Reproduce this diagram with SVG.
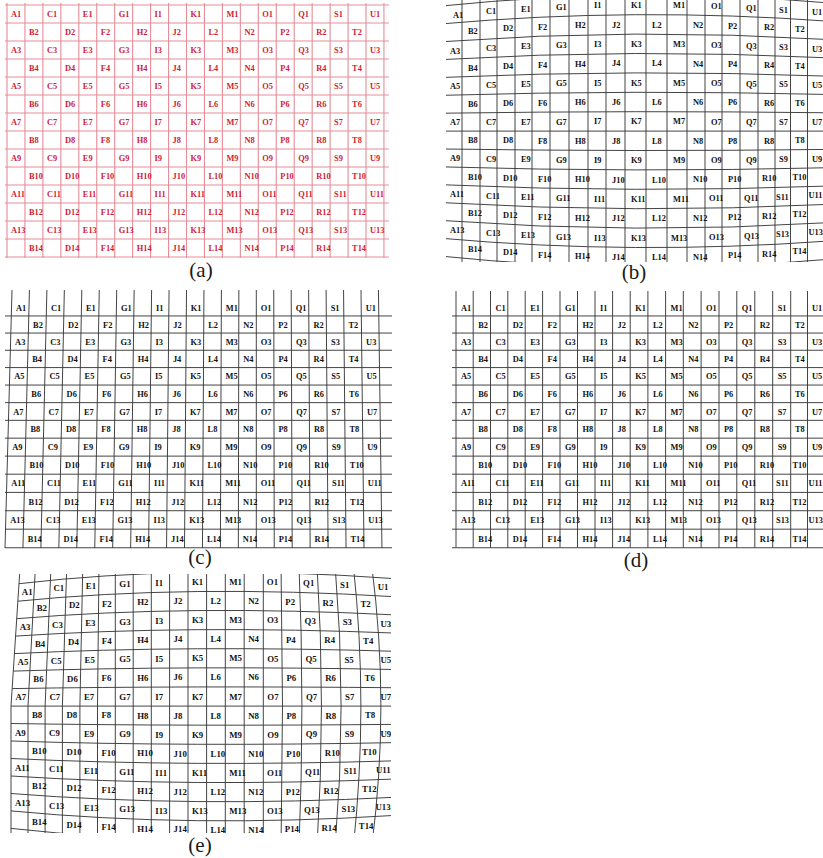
<svg xmlns="http://www.w3.org/2000/svg" width="823" height="858" viewBox="0 0 823 858">
<defs>
<clipPath id="clipB"><rect x="446" y="0" width="377" height="262"/></clipPath>
<clipPath id="clipE"><rect x="5" y="574" width="386" height="259"/></clipPath>
</defs>
<style>
.ra{font-family:"Liberation Serif","Times New Roman",serif;font-weight:bold;font-size:8.4px;fill:#d01c36}
.lb{font-family:"Liberation Serif","Times New Roman",serif;font-weight:bold;font-size:8.4px;fill:#111111}
.le{font-family:"Liberation Serif","Times New Roman",serif;font-weight:bold;font-size:8.8px;fill:#111111}
.cap{font-family:"Liberation Serif","Times New Roman",serif;font-size:21px;fill:#1a1a1a;text-anchor:middle}
.ga{fill:none;stroke:#e58d98;stroke-width:1.1}
.gk{fill:none;stroke:#3a3a3a;stroke-width:0.95}
</style>
<rect width="823" height="858" fill="#ffffff"/>

<g id="panel-a">
<path class="ga" d="M7,3V258M24.95,3V258M42.9,3V258M60.85,3V258M78.8,3V258M96.75,3V258M114.7,3V258M132.65,3V258M150.6,3V258M168.55,3V258M186.5,3V258M204.45,3V258M222.4,3V258M240.35,3V258M258.3,3V258M276.25,3V258M294.2,3V258M312.15,3V258M330.1,3V258M348.05,3V258M366,3V258M383.95,3V258"/>
<path class="ga" d="M5,5H389M5,23H389M5,41H389M5,59H389M5,77H389M5,95H389M5,113H389M5,131H389M5,149H389M5,167H389M5,185H389M5,203H389M5,221H389M5,239H389M5,257H389"/>
<text class="ra" y="16.8"><tspan x="11">A1</tspan><tspan x="46.9">C1</tspan><tspan x="82.8">E1</tspan><tspan x="118.7">G1</tspan><tspan x="154.6">I1</tspan><tspan x="190.5">K1</tspan><tspan x="226.4">M1</tspan><tspan x="262.3">O1</tspan><tspan x="298.2">Q1</tspan><tspan x="334.1">S1</tspan><tspan x="370">U1</tspan></text>
<text class="ra" y="34.8"><tspan x="29">B2</tspan><tspan x="64.9">D2</tspan><tspan x="100.8">F2</tspan><tspan x="136.7">H2</tspan><tspan x="172.6">J2</tspan><tspan x="208.5">L2</tspan><tspan x="244.4">N2</tspan><tspan x="280.3">P2</tspan><tspan x="316.2">R2</tspan><tspan x="352.1">T2</tspan></text>
<text class="ra" y="52.8"><tspan x="11">A3</tspan><tspan x="46.9">C3</tspan><tspan x="82.8">E3</tspan><tspan x="118.7">G3</tspan><tspan x="154.6">I3</tspan><tspan x="190.5">K3</tspan><tspan x="226.4">M3</tspan><tspan x="262.3">O3</tspan><tspan x="298.2">Q3</tspan><tspan x="334.1">S3</tspan><tspan x="370">U3</tspan></text>
<text class="ra" y="70.8"><tspan x="29">B4</tspan><tspan x="64.9">D4</tspan><tspan x="100.8">F4</tspan><tspan x="136.7">H4</tspan><tspan x="172.6">J4</tspan><tspan x="208.5">L4</tspan><tspan x="244.4">N4</tspan><tspan x="280.3">P4</tspan><tspan x="316.2">R4</tspan><tspan x="352.1">T4</tspan></text>
<text class="ra" y="88.8"><tspan x="11">A5</tspan><tspan x="46.9">C5</tspan><tspan x="82.8">E5</tspan><tspan x="118.7">G5</tspan><tspan x="154.6">I5</tspan><tspan x="190.5">K5</tspan><tspan x="226.4">M5</tspan><tspan x="262.3">O5</tspan><tspan x="298.2">Q5</tspan><tspan x="334.1">S5</tspan><tspan x="370">U5</tspan></text>
<text class="ra" y="106.8"><tspan x="29">B6</tspan><tspan x="64.9">D6</tspan><tspan x="100.8">F6</tspan><tspan x="136.7">H6</tspan><tspan x="172.6">J6</tspan><tspan x="208.5">L6</tspan><tspan x="244.4">N6</tspan><tspan x="280.3">P6</tspan><tspan x="316.2">R6</tspan><tspan x="352.1">T6</tspan></text>
<text class="ra" y="124.8"><tspan x="11">A7</tspan><tspan x="46.9">C7</tspan><tspan x="82.8">E7</tspan><tspan x="118.7">G7</tspan><tspan x="154.6">I7</tspan><tspan x="190.5">K7</tspan><tspan x="226.4">M7</tspan><tspan x="262.3">O7</tspan><tspan x="298.2">Q7</tspan><tspan x="334.1">S7</tspan><tspan x="370">U7</tspan></text>
<text class="ra" y="142.8"><tspan x="29">B8</tspan><tspan x="64.9">D8</tspan><tspan x="100.8">F8</tspan><tspan x="136.7">H8</tspan><tspan x="172.6">J8</tspan><tspan x="208.5">L8</tspan><tspan x="244.4">N8</tspan><tspan x="280.3">P8</tspan><tspan x="316.2">R8</tspan><tspan x="352.1">T8</tspan></text>
<text class="ra" y="160.8"><tspan x="11">A9</tspan><tspan x="46.9">C9</tspan><tspan x="82.8">E9</tspan><tspan x="118.7">G9</tspan><tspan x="154.6">I9</tspan><tspan x="190.5">K9</tspan><tspan x="226.4">M9</tspan><tspan x="262.3">O9</tspan><tspan x="298.2">Q9</tspan><tspan x="334.1">S9</tspan><tspan x="370">U9</tspan></text>
<text class="ra" y="178.8"><tspan x="29">B10</tspan><tspan x="64.9">D10</tspan><tspan x="100.8">F10</tspan><tspan x="136.7">H10</tspan><tspan x="172.6">J10</tspan><tspan x="208.5">L10</tspan><tspan x="244.4">N10</tspan><tspan x="280.3">P10</tspan><tspan x="316.2">R10</tspan><tspan x="352.1">T10</tspan></text>
<text class="ra" y="196.8"><tspan x="11">A11</tspan><tspan x="46.9">C11</tspan><tspan x="82.8">E11</tspan><tspan x="118.7">G11</tspan><tspan x="154.6">I11</tspan><tspan x="190.5">K11</tspan><tspan x="226.4">M11</tspan><tspan x="262.3">O11</tspan><tspan x="298.2">Q11</tspan><tspan x="334.1">S11</tspan><tspan x="370">U11</tspan></text>
<text class="ra" y="214.8"><tspan x="29">B12</tspan><tspan x="64.9">D12</tspan><tspan x="100.8">F12</tspan><tspan x="136.7">H12</tspan><tspan x="172.6">J12</tspan><tspan x="208.5">L12</tspan><tspan x="244.4">N12</tspan><tspan x="280.3">P12</tspan><tspan x="316.2">R12</tspan><tspan x="352.1">T12</tspan></text>
<text class="ra" y="232.8"><tspan x="11">A13</tspan><tspan x="46.9">C13</tspan><tspan x="82.8">E13</tspan><tspan x="118.7">G13</tspan><tspan x="154.6">I13</tspan><tspan x="190.5">K13</tspan><tspan x="226.4">M13</tspan><tspan x="262.3">O13</tspan><tspan x="298.2">Q13</tspan><tspan x="334.1">S13</tspan><tspan x="370">U13</tspan></text>
<text class="ra" y="250.8"><tspan x="29">B14</tspan><tspan x="64.9">D14</tspan><tspan x="100.8">F14</tspan><tspan x="136.7">H14</tspan><tspan x="172.6">J14</tspan><tspan x="208.5">L14</tspan><tspan x="244.4">N14</tspan><tspan x="280.3">P14</tspan><tspan x="316.2">R14</tspan><tspan x="352.1">T14</tspan></text>
<text class="cap" x="201" y="277">(a)</text>
</g>

<g id="panel-b">
<g clip-path="url(#clipB)">
<path class="gk" d="M444,-5V265M462,-5V265M480,-5V265M497,-5V265M515,-5V265M532,-5V265M550,-5V265M569,-5V265M588,-5V265M606,-5V265M625,-5V265M646,-5V265M667,-5V265M687,-5V265M705,-5V265M722,-5V265M740,-5V265M758,-5V265M775,-5V265M790.5,-5V265M807.5,-5V265M830,-5V265"/>
<path class="gk" d="M444,5.8Q634,-13.8 830,3M444,23.7Q634,6.9 830,21.3M444,41.6Q634,27.6 830,39.6M444,59.5Q634,48.3 830,57.9M444,77.4Q634,69 830,76.2M444,95.3Q634,89.7 830,94.5M444,113.2Q634,110.4 830,112.8M444,131.1L830,131.1M444,149Q634,151.8 830,149.4M444,166.9Q634,172.5 830,167.7M444,184.8Q634,193.2 830,186M444,202.7Q634,213.9 830,204.3M444,220.6Q634,234.6 830,222.6M444,238.5Q634,255.3 830,240.9M444,256.4Q634,276 830,259.2"/>
<text class="lb"><tspan x="453" y="17.8">A1</tspan><tspan x="486" y="14.2">C1</tspan><tspan x="521" y="11.5">E1</tspan><tspan x="556" y="9.6">G1</tspan><tspan x="594" y="8.4">I1</tspan><tspan x="631" y="8">K1</tspan><tspan x="673" y="8.3">M1</tspan><tspan x="711" y="9.1">O1</tspan><tspan x="746" y="10.6">Q1</tspan><tspan x="779" y="12.6">S1</tspan><tspan x="812" y="15.2">U1</tspan></text>
<text class="lb"><tspan x="468" y="34.1">B2</tspan><tspan x="503" y="31.4">D2</tspan><tspan x="538" y="29.5">F2</tspan><tspan x="575" y="28.1">H2</tspan><tspan x="612" y="27.5">J2</tspan><tspan x="652" y="27.5">L2</tspan><tspan x="693" y="27.9">N2</tspan><tspan x="728" y="28.9">P2</tspan><tspan x="764" y="30.4">R2</tspan><tspan x="795" y="32.3">T2</tspan></text>
<text class="lb"><tspan x="450" y="53.6">A3</tspan><tspan x="486" y="51.1">C3</tspan><tspan x="521" y="49.2">E3</tspan><tspan x="556" y="47.9">G3</tspan><tspan x="594" y="47.1">I3</tspan><tspan x="631" y="46.8">K3</tspan><tspan x="673" y="47">M3</tspan><tspan x="711" y="47.6">O3</tspan><tspan x="746" y="48.6">Q3</tspan><tspan x="779" y="50">S3</tspan><tspan x="812" y="51.8">U3</tspan></text>
<text class="lb"><tspan x="468" y="70.5">B4</tspan><tspan x="503" y="68.8">D4</tspan><tspan x="538" y="67.5">F4</tspan><tspan x="575" y="66.7">H4</tspan><tspan x="612" y="66.3">J4</tspan><tspan x="652" y="66.2">L4</tspan><tspan x="693" y="66.6">N4</tspan><tspan x="728" y="67.2">P4</tspan><tspan x="764" y="68.1">R4</tspan><tspan x="795" y="69.3">T4</tspan></text>
<text class="lb"><tspan x="450" y="89.4">A5</tspan><tspan x="486" y="88">C5</tspan><tspan x="521" y="87">E5</tspan><tspan x="556" y="86.2">G5</tspan><tspan x="594" y="85.8">I5</tspan><tspan x="631" y="85.6">K5</tspan><tspan x="673" y="85.7">M5</tspan><tspan x="711" y="86">O5</tspan><tspan x="746" y="86.6">Q5</tspan><tspan x="779" y="87.4">S5</tspan><tspan x="812" y="88.4">U5</tspan></text>
<text class="lb"><tspan x="468" y="106.8">B6</tspan><tspan x="503" y="106.1">D6</tspan><tspan x="538" y="105.6">F6</tspan><tspan x="575" y="105.2">H6</tspan><tspan x="612" y="105">J6</tspan><tspan x="652" y="105">L6</tspan><tspan x="693" y="105.1">N6</tspan><tspan x="728" y="105.4">P6</tspan><tspan x="764" y="105.8">R6</tspan><tspan x="795" y="106.3">T6</tspan></text>
<text class="lb"><tspan x="450" y="125.2">A7</tspan><tspan x="486" y="124.9">C7</tspan><tspan x="521" y="124.7">E7</tspan><tspan x="556" y="124.5">G7</tspan><tspan x="594" y="124.4">I7</tspan><tspan x="631" y="124.4">K7</tspan><tspan x="673" y="124.4">M7</tspan><tspan x="711" y="124.5">O7</tspan><tspan x="746" y="124.6">Q7</tspan><tspan x="779" y="124.8">S7</tspan><tspan x="812" y="125">U7</tspan></text>
<text class="lb"><tspan x="468" y="143.2">B8</tspan><tspan x="503" y="143.4">D8</tspan><tspan x="538" y="143.6">F8</tspan><tspan x="575" y="143.7">H8</tspan><tspan x="612" y="143.8">J8</tspan><tspan x="652" y="143.8">L8</tspan><tspan x="693" y="143.8">N8</tspan><tspan x="728" y="143.7">P8</tspan><tspan x="764" y="143.5">R8</tspan><tspan x="795" y="143.4">T8</tspan></text>
<text class="lb"><tspan x="450" y="161">A9</tspan><tspan x="486" y="161.8">C9</tspan><tspan x="521" y="162.4">E9</tspan><tspan x="556" y="162.8">G9</tspan><tspan x="594" y="163.1">I9</tspan><tspan x="631" y="163.2">K9</tspan><tspan x="673" y="163.1">M9</tspan><tspan x="711" y="162.9">O9</tspan><tspan x="746" y="162.6">Q9</tspan><tspan x="779" y="162.1">S9</tspan><tspan x="812" y="161.6">U9</tspan></text>
<text class="lb"><tspan x="468" y="179.6">B10</tspan><tspan x="503" y="180.8">D10</tspan><tspan x="538" y="181.7">F10</tspan><tspan x="575" y="182.3">H10</tspan><tspan x="612" y="182.6">J10</tspan><tspan x="652" y="182.6">L10</tspan><tspan x="693" y="182.4">N10</tspan><tspan x="728" y="181.9">P10</tspan><tspan x="762" y="181.3">R10</tspan><tspan x="792.5" y="180.4">T10</tspan></text>
<text class="lb"><tspan x="450" y="196.8">A11</tspan><tspan x="486" y="198.6">C11</tspan><tspan x="521" y="200.1">E11</tspan><tspan x="556" y="201.2">G11</tspan><tspan x="594" y="201.8">I11</tspan><tspan x="631" y="202">K11</tspan><tspan x="673" y="201.8">M11</tspan><tspan x="709" y="201.4">O11</tspan><tspan x="744" y="200.6">Q11</tspan><tspan x="776" y="199.5">S11</tspan><tspan x="808.5" y="198.2">U11</tspan></text>
<text class="lb"><tspan x="468" y="215.9">B12</tspan><tspan x="503" y="218.1">D12</tspan><tspan x="538" y="219.7">F12</tspan><tspan x="575" y="220.8">H12</tspan><tspan x="612" y="221.3">J12</tspan><tspan x="652" y="221.4">L12</tspan><tspan x="693" y="221">N12</tspan><tspan x="728" y="220.2">P12</tspan><tspan x="762" y="219">R12</tspan><tspan x="792.5" y="217.4">T12</tspan></text>
<text class="lb"><tspan x="450" y="232.6">A13</tspan><tspan x="486" y="235.5">C13</tspan><tspan x="521" y="237.8">E13</tspan><tspan x="556" y="239.5">G13</tspan><tspan x="594" y="240.5">I13</tspan><tspan x="631" y="240.8">K13</tspan><tspan x="671" y="240.6">M13</tspan><tspan x="709" y="239.8">O13</tspan><tspan x="744" y="238.6">Q13</tspan><tspan x="776" y="236.9">S13</tspan><tspan x="808.5" y="234.8">U13</tspan></text>
<text class="lb"><tspan x="468" y="252.3">B14</tspan><tspan x="503" y="255.4">D14</tspan><tspan x="538" y="257.8">F14</tspan><tspan x="575" y="259.3">H14</tspan><tspan x="612" y="260.1">J14</tspan><tspan x="652" y="260.1">L14</tspan><tspan x="693" y="259.6">N14</tspan><tspan x="728" y="258.4">P14</tspan><tspan x="762" y="256.7">R14</tspan><tspan x="792.5" y="254.4">T14</tspan></text>
</g>
<text class="cap" x="634" y="279">(b)</text>
</g>

<g id="panel-c">
<path class="gk" d="M12,290L5,548M29.45,290L22.95,548M46.9,290L40.9,548M64.35,290L58.85,548M81.8,290L76.8,548M99.25,290L94.75,548M116.7,290L112.7,548M134.15,290L130.65,548M151.6,290L148.6,548M169.05,290L166.55,548M186.5,290L184.5,548M203.95,290L202.45,548M221.4,290L220.4,548M238.85,290L238.35,548M256.3,290L256.3,548M273.75,290L274.25,548M291.2,290L292.2,548M308.65,290L310.15,548M326.1,290L328.1,548M343.55,290L346.05,548M361,290L364,548M378.45,290L381.95,548"/>
<path class="gk" d="M5,315.96H392M5,333.05H392M5,350.26H392M5,367.59H392M5,385.05H392M5,402.63H392M5,420.34H392M5,438.17H392M5,456.12H392M5,474.2H392M5,492.4H392M5,510.73H392M5,529.18H392M5,547.75H392"/>
<text class="lb" y="310.5"><tspan x="16">A1</tspan><tspan x="51">C1</tspan><tspan x="85.9">E1</tspan><tspan x="120.9">G1</tspan><tspan x="155.9">I1</tspan><tspan x="190.8">K1</tspan><tspan x="225.8">M1</tspan><tspan x="260.8">O1</tspan><tspan x="295.7">Q1</tspan><tspan x="330.7">S1</tspan><tspan x="365.7">U1</tspan></text>
<text class="lb" y="327.5"><tspan x="33.1">B2</tspan><tspan x="68.1">D2</tspan><tspan x="103.1">F2</tspan><tspan x="138.2">H2</tspan><tspan x="173.2">J2</tspan><tspan x="208.2">L2</tspan><tspan x="243.3">N2</tspan><tspan x="278.3">P2</tspan><tspan x="313.4">R2</tspan><tspan x="348.4">T2</tspan></text>
<text class="lb" y="344.7"><tspan x="15.1">A3</tspan><tspan x="50.2">C3</tspan><tspan x="85.3">E3</tspan><tspan x="120.4">G3</tspan><tspan x="155.5">I3</tspan><tspan x="190.6">K3</tspan><tspan x="225.7">M3</tspan><tspan x="260.8">O3</tspan><tspan x="295.9">Q3</tspan><tspan x="331">S3</tspan><tspan x="366.1">U3</tspan></text>
<text class="lb" y="361.9"><tspan x="32.2">B4</tspan><tspan x="67.4">D4</tspan><tspan x="102.6">F4</tspan><tspan x="137.7">H4</tspan><tspan x="172.9">J4</tspan><tspan x="208.1">L4</tspan><tspan x="243.2">N4</tspan><tspan x="278.4">P4</tspan><tspan x="313.6">R4</tspan><tspan x="348.7">T4</tspan></text>
<text class="lb" y="379.3"><tspan x="14.2">A5</tspan><tspan x="49.4">C5</tspan><tspan x="84.6">E5</tspan><tspan x="119.9">G5</tspan><tspan x="155.1">I5</tspan><tspan x="190.3">K5</tspan><tspan x="225.6">M5</tspan><tspan x="260.8">O5</tspan><tspan x="296">Q5</tspan><tspan x="331.3">S5</tspan><tspan x="366.5">U5</tspan></text>
<text class="lb" y="396.8"><tspan x="31.3">B6</tspan><tspan x="66.6">D6</tspan><tspan x="101.9">F6</tspan><tspan x="137.2">H6</tspan><tspan x="172.5">J6</tspan><tspan x="207.9">L6</tspan><tspan x="243.2">N6</tspan><tspan x="278.5">P6</tspan><tspan x="313.8">R6</tspan><tspan x="349.1">T6</tspan></text>
<text class="lb" y="414.5"><tspan x="13.2">A7</tspan><tspan x="48.6">C7</tspan><tspan x="83.9">E7</tspan><tspan x="119.3">G7</tspan><tspan x="154.7">I7</tspan><tspan x="190.1">K7</tspan><tspan x="225.4">M7</tspan><tspan x="260.8">O7</tspan><tspan x="296.2">Q7</tspan><tspan x="331.5">S7</tspan><tspan x="366.9">U7</tspan></text>
<text class="lb" y="432.3"><tspan x="30.4">B8</tspan><tspan x="65.9">D8</tspan><tspan x="101.3">F8</tspan><tspan x="136.8">H8</tspan><tspan x="172.2">J8</tspan><tspan x="207.6">L8</tspan><tspan x="243.1">N8</tspan><tspan x="278.5">P8</tspan><tspan x="314">R8</tspan><tspan x="349.4">T8</tspan></text>
<text class="lb" y="450.1"><tspan x="12.2">A9</tspan><tspan x="47.8">C9</tspan><tspan x="83.3">E9</tspan><tspan x="118.8">G9</tspan><tspan x="154.3">I9</tspan><tspan x="189.8">K9</tspan><tspan x="225.3">M9</tspan><tspan x="260.8">O9</tspan><tspan x="296.3">Q9</tspan><tspan x="331.8">S9</tspan><tspan x="367.3">U9</tspan></text>
<text class="lb" y="468.2"><tspan x="29.5">B10</tspan><tspan x="65.1">D10</tspan><tspan x="100.7">F10</tspan><tspan x="136.3">H10</tspan><tspan x="171.9">J10</tspan><tspan x="207.4">L10</tspan><tspan x="243">N10</tspan><tspan x="278.6">P10</tspan><tspan x="314.2">R10</tspan><tspan x="349.8">T10</tspan></text>
<text class="lb" y="486.3"><tspan x="11.3">A11</tspan><tspan x="46.9">C11</tspan><tspan x="82.6">E11</tspan><tspan x="118.2">G11</tspan><tspan x="153.9">I11</tspan><tspan x="189.5">K11</tspan><tspan x="225.2">M11</tspan><tspan x="260.8">O11</tspan><tspan x="296.5">Q11</tspan><tspan x="332.1">S11</tspan><tspan x="367.8">U11</tspan></text>
<text class="lb" y="504.6"><tspan x="28.6">B12</tspan><tspan x="64.3">D12</tspan><tspan x="100.1">F12</tspan><tspan x="135.8">H12</tspan><tspan x="171.5">J12</tspan><tspan x="207.2">L12</tspan><tspan x="243">N12</tspan><tspan x="278.7">P12</tspan><tspan x="314.4">R12</tspan><tspan x="350.1">T12</tspan></text>
<text class="lb" y="523"><tspan x="10.3">A13</tspan><tspan x="46.1">C13</tspan><tspan x="81.8">E13</tspan><tspan x="117.6">G13</tspan><tspan x="153.4">I13</tspan><tspan x="189.2">K13</tspan><tspan x="225">M13</tspan><tspan x="260.8">O13</tspan><tspan x="296.6">Q13</tspan><tspan x="332.4">S13</tspan><tspan x="368.2">U13</tspan></text>
<text class="lb" y="541.5"><tspan x="27.7">B14</tspan><tspan x="63.5">D14</tspan><tspan x="99.4">F14</tspan><tspan x="135.3">H14</tspan><tspan x="171.1">J14</tspan><tspan x="207">L14</tspan><tspan x="242.8">N14</tspan><tspan x="278.7">P14</tspan><tspan x="314.6">R14</tspan><tspan x="350.4">T14</tspan></text>
<text class="cap" x="200" y="564">(c)</text>
</g>

<g id="panel-d">
<path class="gk" d="M456,291V547.75M473.2,291V547.75M490.5,291V547.75M507.8,291V547.75M525.2,291V547.75M542.6,291V547.75M560,291V547.75M577.5,291V547.75M595,291V547.75M612.6,291V547.75M630.2,291V547.75M647.9,291V547.75M665.6,291V547.75M683.3,291V547.75M701.1,291V547.75M719,291V547.75M736.8,291V547.75M754.8,291V547.75M772.7,291V547.75M790.7,291V547.75M807.5,291V547.75"/>
<path class="gk" d="M452,315.96H823M452,333.05H823M452,350.26H823M452,367.59H823M452,385.05H823M452,402.63H823M452,420.34H823M452,438.17H823M452,456.12H823M452,474.2H823M452,492.4H823M452,510.73H823M452,529.18H823M452,547.75H823"/>
<text class="lb" y="310.5"><tspan x="461">A1</tspan><tspan x="495.5">C1</tspan><tspan x="530.2">E1</tspan><tspan x="565">G1</tspan><tspan x="600">I1</tspan><tspan x="635.2">K1</tspan><tspan x="670.6">M1</tspan><tspan x="706.1">O1</tspan><tspan x="741.8">Q1</tspan><tspan x="777.7">S1</tspan><tspan x="812">U1</tspan></text>
<text class="lb" y="327.5"><tspan x="478.2">B2</tspan><tspan x="512.8">D2</tspan><tspan x="547.6">F2</tspan><tspan x="582.5">H2</tspan><tspan x="617.6">J2</tspan><tspan x="652.9">L2</tspan><tspan x="688.3">N2</tspan><tspan x="724">P2</tspan><tspan x="759.8">R2</tspan><tspan x="795">T2</tspan></text>
<text class="lb" y="344.7"><tspan x="461">A3</tspan><tspan x="495.5">C3</tspan><tspan x="530.2">E3</tspan><tspan x="565">G3</tspan><tspan x="600">I3</tspan><tspan x="635.2">K3</tspan><tspan x="670.6">M3</tspan><tspan x="706.1">O3</tspan><tspan x="741.8">Q3</tspan><tspan x="777.7">S3</tspan><tspan x="812">U3</tspan></text>
<text class="lb" y="361.9"><tspan x="478.2">B4</tspan><tspan x="512.8">D4</tspan><tspan x="547.6">F4</tspan><tspan x="582.5">H4</tspan><tspan x="617.6">J4</tspan><tspan x="652.9">L4</tspan><tspan x="688.3">N4</tspan><tspan x="724">P4</tspan><tspan x="759.8">R4</tspan><tspan x="795">T4</tspan></text>
<text class="lb" y="379.3"><tspan x="461">A5</tspan><tspan x="495.5">C5</tspan><tspan x="530.2">E5</tspan><tspan x="565">G5</tspan><tspan x="600">I5</tspan><tspan x="635.2">K5</tspan><tspan x="670.6">M5</tspan><tspan x="706.1">O5</tspan><tspan x="741.8">Q5</tspan><tspan x="777.7">S5</tspan><tspan x="812">U5</tspan></text>
<text class="lb" y="396.8"><tspan x="478.2">B6</tspan><tspan x="512.8">D6</tspan><tspan x="547.6">F6</tspan><tspan x="582.5">H6</tspan><tspan x="617.6">J6</tspan><tspan x="652.9">L6</tspan><tspan x="688.3">N6</tspan><tspan x="724">P6</tspan><tspan x="759.8">R6</tspan><tspan x="795">T6</tspan></text>
<text class="lb" y="414.5"><tspan x="461">A7</tspan><tspan x="495.5">C7</tspan><tspan x="530.2">E7</tspan><tspan x="565">G7</tspan><tspan x="600">I7</tspan><tspan x="635.2">K7</tspan><tspan x="670.6">M7</tspan><tspan x="706.1">O7</tspan><tspan x="741.8">Q7</tspan><tspan x="777.7">S7</tspan><tspan x="812">U7</tspan></text>
<text class="lb" y="432.3"><tspan x="478.2">B8</tspan><tspan x="512.8">D8</tspan><tspan x="547.6">F8</tspan><tspan x="582.5">H8</tspan><tspan x="617.6">J8</tspan><tspan x="652.9">L8</tspan><tspan x="688.3">N8</tspan><tspan x="724">P8</tspan><tspan x="759.8">R8</tspan><tspan x="795">T8</tspan></text>
<text class="lb" y="450.1"><tspan x="461">A9</tspan><tspan x="495.5">C9</tspan><tspan x="530.2">E9</tspan><tspan x="565">G9</tspan><tspan x="600">I9</tspan><tspan x="635.2">K9</tspan><tspan x="670.6">M9</tspan><tspan x="706.1">O9</tspan><tspan x="741.8">Q9</tspan><tspan x="777.7">S9</tspan><tspan x="812">U9</tspan></text>
<text class="lb" y="468.2"><tspan x="478.2">B10</tspan><tspan x="512.8">D10</tspan><tspan x="547.6">F10</tspan><tspan x="582.5">H10</tspan><tspan x="617.6">J10</tspan><tspan x="652.9">L10</tspan><tspan x="688.3">N10</tspan><tspan x="724">P10</tspan><tspan x="759.8">R10</tspan><tspan x="792.5">T10</tspan></text>
<text class="lb" y="486.3"><tspan x="461">A11</tspan><tspan x="495.5">C11</tspan><tspan x="530.2">E11</tspan><tspan x="565">G11</tspan><tspan x="600">I11</tspan><tspan x="635.2">K11</tspan><tspan x="670.6">M11</tspan><tspan x="706.1">O11</tspan><tspan x="741.8">Q11</tspan><tspan x="776">S11</tspan><tspan x="808.5">U11</tspan></text>
<text class="lb" y="504.6"><tspan x="478.2">B12</tspan><tspan x="512.8">D12</tspan><tspan x="547.6">F12</tspan><tspan x="582.5">H12</tspan><tspan x="617.6">J12</tspan><tspan x="652.9">L12</tspan><tspan x="688.3">N12</tspan><tspan x="724">P12</tspan><tspan x="759.8">R12</tspan><tspan x="792.5">T12</tspan></text>
<text class="lb" y="523"><tspan x="461">A13</tspan><tspan x="495.5">C13</tspan><tspan x="530.2">E13</tspan><tspan x="565">G13</tspan><tspan x="600">I13</tspan><tspan x="635.2">K13</tspan><tspan x="670.6">M13</tspan><tspan x="706.1">O13</tspan><tspan x="741.8">Q13</tspan><tspan x="776">S13</tspan><tspan x="808.5">U13</tspan></text>
<text class="lb" y="541.5"><tspan x="478.2">B14</tspan><tspan x="512.8">D14</tspan><tspan x="547.6">F14</tspan><tspan x="582.5">H14</tspan><tspan x="617.6">J14</tspan><tspan x="652.9">L14</tspan><tspan x="688.3">N14</tspan><tspan x="724">P14</tspan><tspan x="759.8">R14</tspan><tspan x="792.5">T14</tspan></text>
<text class="cap" x="636" y="567">(d)</text>
</g>

<g id="panel-e">
<g clip-path="url(#clipE)">
<path class="gk" d="M19.7,573.2L11,706.1L11,838.9M35.2,571.2L28,706.1L28,840.9M50.9,569.4L45.1,706.1L45.1,842.7M66.7,567.8L62.4,706.1L62.4,844.4M82.8,566.3L79.9,706.1L79.9,845.8M99,565L97.5,706.1L97.5,847.1M115.3,563.8V848.3M133.2,562.9V849.2M151.3,562.1V850M169.6,561.5V850.6M188,561V851.1M206.6,560.8V851.3M225.3,560.7V851.4M244.2,560.8V851.4M263.3,561V851.1M281,561.4Q284,706.1 281,850.7M298.9,562Q304.9,706.1 298.9,850.1M316.9,562.8Q326,706.1 316.9,849.3M335,563.7Q347.2,706.1 335,848.4M353.3,564.9Q368.5,706.1 353.3,847.3M371.8,566.1Q390,706.1 371.8,846M390.6,567.6Q411.8,706.1 390.6,844.5"/>
<path class="gk" d="M19,583.7Q189,563.7 392.2,578.5M17.9,601.2Q188.3,584.1 394.6,596.7M16.7,618.7Q187.9,604.3 396.6,615M15.6,636.1Q187.6,624.7 398.3,633.2M14.4,653.6Q187.6,645 399.5,651.4M13.3,671.1Q187.7,665.4 400.5,669.6M12.1,688.6Q188,685.7 401,687.8M11,706.1L401.2,706.1M11,723.5Q188.6,726.4 401,724.3M11,741Q188.9,746.8 400.5,742.5M11,758.5Q189.4,767.1 399.5,760.7M11,776Q190,787.5 398.3,778.9M11,793.5Q190.8,807.8 396.6,797.2M11,810.9Q191.8,828.2 394.6,815.4M11,828.4Q193,848.5 392.2,833.6"/>
<text class="le"><tspan x="21.8" y="594.5">A1</tspan><tspan x="53.4" y="591.4">C1</tspan><tspan x="85.8" y="588.9">E1</tspan><tspan x="119.3" y="587">G1</tspan><tspan x="155.3" y="585.6">I1</tspan><tspan x="192" y="584.9">K1</tspan><tspan x="229.3" y="584.7">M1</tspan><tspan x="266.8" y="585.1">O1</tspan><tspan x="303.1" y="586.2">Q1</tspan><tspan x="340.1" y="587.8">S1</tspan><tspan x="377.7" y="590">U1</tspan></text>
<text class="le"><tspan x="36.7" y="610.8">B2</tspan><tspan x="69" y="608.4">D2</tspan><tspan x="102" y="606.5">F2</tspan><tspan x="137.2" y="605.1">H2</tspan><tspan x="173.6" y="604.2">J2</tspan><tspan x="210.6" y="603.9">L2</tspan><tspan x="248.2" y="604">N2</tspan><tspan x="285.3" y="604.6">P2</tspan><tspan x="322.6" y="605.7">R2</tspan><tspan x="360.5" y="607.3">T2</tspan></text>
<text class="le"><tspan x="19.7" y="629.8">A3</tspan><tspan x="52.1" y="627.6">C3</tspan><tspan x="85.2" y="625.9">E3</tspan><tspan x="119.3" y="624.6">G3</tspan><tspan x="155.3" y="623.6">I3</tspan><tspan x="192" y="623.1">K3</tspan><tspan x="229.3" y="623">M3</tspan><tspan x="267" y="623.3">O3</tspan><tspan x="304.6" y="624">Q3</tspan><tspan x="342.7" y="625.1">S3</tspan><tspan x="380.4" y="626.6">U3</tspan></text>
<text class="le"><tspan x="35" y="646.6">B4</tspan><tspan x="68.1" y="645">D4</tspan><tspan x="101.8" y="643.8">F4</tspan><tspan x="137.2" y="643">H4</tspan><tspan x="173.6" y="642.4">J4</tspan><tspan x="210.6" y="642.1">L4</tspan><tspan x="248.2" y="642.2">N4</tspan><tspan x="286" y="642.6">P4</tspan><tspan x="324.3" y="643.3">R4</tspan><tspan x="363.1" y="644.3">T4</tspan></text>
<text class="le"><tspan x="17.6" y="665.1">A5</tspan><tspan x="50.8" y="663.9">C5</tspan><tspan x="84.6" y="662.9">E5</tspan><tspan x="119.3" y="662.2">G5</tspan><tspan x="155.3" y="661.6">I5</tspan><tspan x="192" y="661.4">K5</tspan><tspan x="229.3" y="661.3">M5</tspan><tspan x="267.2" y="661.5">O5</tspan><tspan x="305.5" y="661.8">Q5</tspan><tspan x="344.4" y="662.5">S5</tspan><tspan x="380.5" y="663.3">U5</tspan></text>
<text class="le"><tspan x="33.3" y="682.2">B6</tspan><tspan x="67.1" y="681.6">D6</tspan><tspan x="101.6" y="681.1">F6</tspan><tspan x="137.2" y="680.7">H6</tspan><tspan x="173.6" y="680.4">J6</tspan><tspan x="210.6" y="680.3">L6</tspan><tspan x="248.2" y="680.4">N6</tspan><tspan x="286.4" y="680.5">P6</tspan><tspan x="325.2" y="680.8">R6</tspan><tspan x="364.6" y="681.3">T6</tspan></text>
<text class="le"><tspan x="15.5" y="700.2">A7</tspan><tspan x="49.4" y="700">C7</tspan><tspan x="84" y="699.8">E7</tspan><tspan x="119.3" y="699.7">G7</tspan><tspan x="155.3" y="699.5">I7</tspan><tspan x="192" y="699.5">K7</tspan><tspan x="229.3" y="699.5">M7</tspan><tspan x="267.3" y="699.5">O7</tspan><tspan x="305.9" y="699.6">Q7</tspan><tspan x="345.1" y="699.7">S7</tspan><tspan x="380.5" y="699.9">U7</tspan></text>
<text class="le"><tspan x="32" y="718">B8</tspan><tspan x="66.4" y="718.2">D8</tspan><tspan x="101.5" y="718.4">F8</tspan><tspan x="137.2" y="718.5">H8</tspan><tspan x="173.6" y="718.6">J8</tspan><tspan x="210.6" y="718.6">L8</tspan><tspan x="248.2" y="718.6">N8</tspan><tspan x="286.5" y="718.6">P8</tspan><tspan x="325.4" y="718.5">R8</tspan><tspan x="364.9" y="718.3">T8</tspan></text>
<text class="le"><tspan x="15" y="735.5">A9</tspan><tspan x="49.1" y="736.2">C9</tspan><tspan x="83.9" y="736.8">E9</tspan><tspan x="119.3" y="737.2">G9</tspan><tspan x="155.3" y="737.6">I9</tspan><tspan x="192" y="737.7">K9</tspan><tspan x="229.3" y="737.8">M9</tspan><tspan x="267.3" y="737.7">O9</tspan><tspan x="305.8" y="737.4">Q9</tspan><tspan x="344.8" y="737.1">S9</tspan><tspan x="380.5" y="736.6">U9</tspan></text>
<text class="le"><tspan x="32" y="753.8">B10</tspan><tspan x="66.4" y="754.8">D10</tspan><tspan x="101.5" y="755.7">F10</tspan><tspan x="137.2" y="756.3">H10</tspan><tspan x="173.6" y="756.7">J10</tspan><tspan x="210.6" y="756.9">L10</tspan><tspan x="248.2" y="756.9">N10</tspan><tspan x="286.3" y="756.6">P10</tspan><tspan x="324.8" y="756.1">R10</tspan><tspan x="362" y="755.3">T10</tspan></text>
<text class="le"><tspan x="15" y="770.7">A11</tspan><tspan x="49.1" y="772.3">C11</tspan><tspan x="83.9" y="773.7">E11</tspan><tspan x="119.3" y="774.7">G11</tspan><tspan x="155.3" y="775.5">I11</tspan><tspan x="192" y="775.9">K11</tspan><tspan x="229.3" y="776">M11</tspan><tspan x="267.1" y="775.7">O11</tspan><tspan x="305.1" y="775.2">Q11</tspan><tspan x="343.7" y="774.3">S11</tspan><tspan x="376" y="773.1">U11</tspan></text>
<text class="le"><tspan x="32" y="789.4">B12</tspan><tspan x="66.4" y="791.4">D12</tspan><tspan x="101.5" y="792.9">F12</tspan><tspan x="137.2" y="794.1">H12</tspan><tspan x="173.6" y="794.8">J12</tspan><tspan x="210.6" y="795.1">L12</tspan><tspan x="248.2" y="795">N12</tspan><tspan x="285.7" y="794.5">P12</tspan><tspan x="323.5" y="793.6">R12</tspan><tspan x="362" y="792.3">T12</tspan></text>
<text class="le"><tspan x="15" y="805.9">A13</tspan><tspan x="49.1" y="808.6">C13</tspan><tspan x="83.9" y="810.7">E13</tspan><tspan x="119.3" y="812.3">G13</tspan><tspan x="155.3" y="813.5">I13</tspan><tspan x="192" y="814.1">K13</tspan><tspan x="229.3" y="814.2">M13</tspan><tspan x="266.9" y="813.9">O13</tspan><tspan x="303.9" y="813">Q13</tspan><tspan x="341.5" y="811.7">S13</tspan><tspan x="375.5" y="809.8">U13</tspan></text>
<text class="le"><tspan x="32" y="825.2">B14</tspan><tspan x="66.4" y="828">D14</tspan><tspan x="101.5" y="830.2">F14</tspan><tspan x="137.2" y="831.9">H14</tspan><tspan x="173.6" y="832.4">J14</tspan><tspan x="210.6" y="832.6">L14</tspan><tspan x="248.2" y="832.6">N14</tspan><tspan x="284.8" y="832.2">P14</tspan><tspan x="321.5" y="831.2">R14</tspan><tspan x="358.8" y="829.3">T14</tspan></text>
</g>
<text class="cap" x="200" y="852">(e)</text>
</g>
</svg>
